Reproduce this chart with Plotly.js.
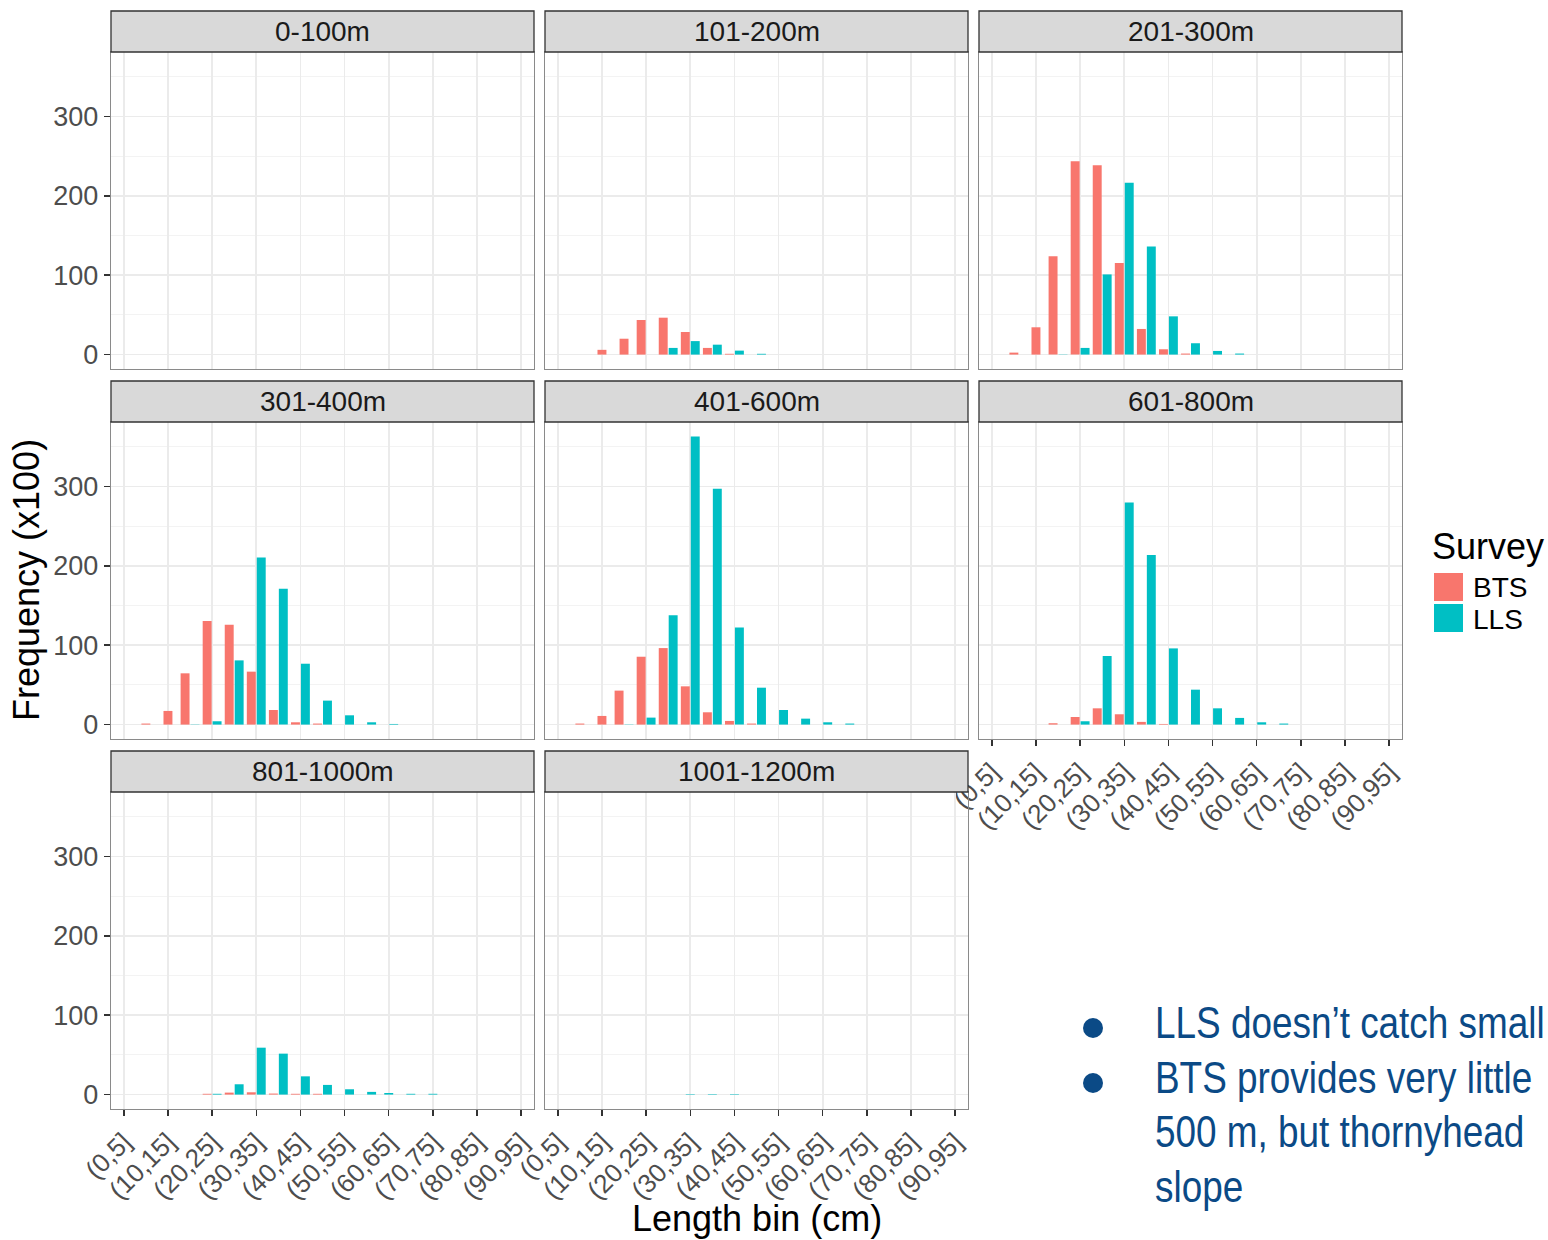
<!DOCTYPE html>
<html>
<head>
<meta charset="utf-8">
<script src="https://cdn.plot.ly/plotly-3.0.1.min.js"></script>
<style>
html,body{margin:0;padding:0;background:#fff;overflow:hidden}
#wrap{position:relative;width:1548px;height:1240px}
#notes{position:absolute;left:0;top:0;width:1548px;height:1240px;pointer-events:none}
.note-line{position:absolute;left:1155px;white-space:nowrap;
  font-family:"Liberation Sans",Arial,Helvetica,sans-serif;font-size:45px;line-height:54.5px;
  color:#0B4A86;transform:scaleX(0.82);transform-origin:0 0}
.note-dot{position:absolute;left:1083px;width:20px;height:20px;border-radius:50%;background:#0B4A86}
</style>
</head>
<body>
<div id="wrap">
  <div id="chart" style="width:1548px;height:1240px"></div>
  <div id="notes"></div>
</div>
<script>
// Length bins (cm) on the shared x axis, and the bins that carry a label
const lengthBins = ["(0,5]","(5,10]","(10,15]","(15,20]","(20,25]","(25,30]","(30,35]","(35,40]","(40,45]","(45,50]","(50,55]","(55,60]","(60,65]","(65,70]","(70,75]","(75,80]","(80,85]","(85,90]","(90,95]"];
const tickBins = ["(0,5]","(10,15]","(20,25]","(30,35]","(40,45]","(50,55]","(60,65]","(70,75]","(80,85]","(90,95]"];
const depthStrata = ["0-100m","101-200m","201-300m","301-400m","401-600m","601-800m","801-1000m","1001-1200m"];
const surveys = ["BTS","LLS"];
const yBreaks = [0,100,200,300];
const yMinorBreaks = [50,150,250,350];

// Frequency (x100) per length bin; null = no record for that survey in that bin
const bts_0_100     = [null,null,null,null,null,null,null,null,null,null,null,null,null,null,null,null,null,null,null];
const lls_0_100     = [null,null,null,null,null,null,null,null,null,null,null,null,null,null,null,null,null,null,null];
const bts_101_200   = [null,null,6,20,43.6,46.5,28.5,8.4,1,0,null,null,null,null,null,null,null,null,null];
const lls_101_200   = [null,null,null,null,0,8.4,17,12.5,5,1,null,null,null,null,null,null,null,null,null];
const bts_201_300   = [null,2.5,34.4,124,243.6,238.6,115.3,32.3,6.7,1.3,0,0,null,null,null,null,null,null,null];
const lls_201_300   = [null,null,null,0.3,8.4,101,216.4,136.3,48.2,14.3,4.6,1.3,null,null,null,null,null,null,null];
const bts_301_400   = [null,1.3,17.2,64.6,130.4,125.8,66.7,18.4,2.9,1.3,0,0,0,null,null,null,null,null,null];
const lls_301_400   = [null,null,null,0.3,4.2,80.9,210.5,171,76.7,30.2,11.7,2.9,0.8,null,null,null,null,null,null];
const bts_401_600   = [null,1.3,10.9,42.8,85.5,96.4,48.2,15.5,4.6,1.3,0,0,0,0,null,null,null,null,null];
const lls_401_600   = [null,null,null,0.3,8.8,137.9,363.1,297.3,122.4,46.5,18.4,7.5,2.9,1.3,null,null,null,null,null];
const bts_601_800   = [null,null,null,1.7,9.6,20.5,13,3.4,0.8,0,0,0,0,0,null,null,null,null,null];
const lls_601_800   = [null,null,null,0,4.2,86.4,279.7,213.8,96,44,20.5,8.4,2.9,1.3,null,null,null,null,null];
const bts_801_1000  = [null,null,null,null,1,2.5,2.9,1.3,1,1,0,0,null,null,null,null,null,null,null];
const lls_801_1000  = [null,null,null,null,1,13,59.1,51.6,23,12.2,6.7,3.4,2,1,1,null,null,null,null];
const bts_1001_1200 = [null,null,null,null,null,null,null,null,null,null,null,null,null,null,null,null,null,null,null];
const lls_1001_1200 = [null,null,null,null,null,null,0.6,0.6,0.6,null,null,null,null,null,null,null,null,null,null];

const btsByStratum = [bts_0_100,bts_101_200,bts_201_300,bts_301_400,bts_401_600,bts_601_800,bts_801_1000,bts_1001_1200];
const llsByStratum = [lls_0_100,lls_101_200,lls_201_300,lls_301_400,lls_401_600,lls_601_800,lls_801_1000,lls_1001_1200];

const surveyColors = {BTS:"#F8766D", LLS:"#00BFC4"};
const noteLines = ["LLS doesn\u2019t catch small", "BTS provides very little", "500 m, but thornyhead", "slope"];
const noteBulleted = [true, true, false, false];

// ---- geometry of the facet grid (pixels) ----
const W = 1548, H = 1240;
const colPx = [[111,534],[545,968],[979,1402]];
const rowPx = [[52,369],[422,739],[792,1109]];
const stripH = 41;
const FONT = "Liberation Sans, Arial, Helvetica, sans-serif";
const STRIP = 28, YTICK = 27, XTICK = 26, TITLE = 36;
const px = v => v / W;
const py = v => 1 - v / H;

// shared y scale with 5% expansion either side
const allVals = btsByStratum.concat(llsByStratum).flat().filter(v => v !== null);
const yMax = Math.max(...allVals);
const yRange = [-0.05 * yMax, 1.05 * yMax];

// dodge: paired bars sit side by side, a lone bar is centred on its bin
const BAR_W = 0.405;
function offsets(own, other, left) {
  return own.map((v, i) => {
    if (v === null) return null;
    if (other[i] === null) return -BAR_W / 2;
    return left ? -0.0225 - BAR_W : 0.0225;
  });
}

const xLabelPanels = new Set([5, 6, 7]);
const traces = [];
const layout = {
  width: W, height: H,
  margin: {l:0, r:0, t:0, b:0},
  paper_bgcolor: "#ffffff",
  plot_bgcolor: "#ffffff",
  showlegend: false,
  barmode: "overlay",
  font: {family: FONT, color: "#1A1A1A"},
  shapes: [],
  annotations: []
};

depthStrata.forEach((name, i) => {
  const r = Math.floor(i / 3), c = i % 3;
  const k = i === 0 ? "" : String(i + 1);
  const xa = "x" + k, ya = "y" + k;
  const bts = btsByStratum[i], lls = llsByStratum[i];

  traces.push({
    type: "bar", name: surveys[0], x: lengthBins, y: bts,
    offset: offsets(bts, lls, true), width: BAR_W,
    marker: {color: surveyColors.BTS, line: {width: 0}},
    xaxis: xa, yaxis: ya
  });
  traces.push({
    type: "bar", name: surveys[1], x: lengthBins, y: lls,
    offset: offsets(lls, bts, false), width: BAR_W,
    marker: {color: surveyColors.LLS, line: {width: 0}},
    xaxis: xa, yaxis: ya
  });

  const showX = xLabelPanels.has(i);
  const showY = c === 0;
  layout["xaxis" + k] = {
    domain: [px(colPx[c][0]), px(colPx[c][1])],
    anchor: ya,
    type: "category",
    categoryorder: "array", categoryarray: lengthBins,
    range: [-0.58, lengthBins.length - 1 + 0.58],
    tickmode: "array", tickvals: tickBins, ticktext: tickBins,
    showticklabels: showX,
    ticks: showX ? "outside" : "", ticklen: 6, tickwidth: 1.5, tickcolor: "#333333",
    tickangle: -45,
    tickfont: {family: FONT, size: XTICK, color: "#4D4D4D"},
    showgrid: true, gridcolor: "#EBEBEB", gridwidth: 1.8,
    zeroline: false,
    showline: true, mirror: true, linecolor: "#8A8A8A", linewidth: 1.2,
    fixedrange: true
  };
  layout["yaxis" + k] = {
    domain: [py(rowPx[r][1]), py(rowPx[r][0])],
    anchor: xa,
    range: yRange,
    tickmode: "array", tickvals: yBreaks, ticktext: yBreaks.map(String),
    showticklabels: showY,
    ticks: showY ? "outside" : "", ticklen: 6, tickwidth: 1.5, tickcolor: "#333333",
    tickfont: {family: FONT, size: YTICK, color: "#4D4D4D"},
    showgrid: true, gridcolor: "#EBEBEB", gridwidth: 1.8,
    minor: {tickmode: "array", tickvals: yMinorBreaks, showgrid: true,
            gridcolor: "#F3F3F3", gridwidth: 1, ticks: ""},
    zeroline: false,
    showline: true, mirror: true, linecolor: "#8A8A8A", linewidth: 1.2,
    fixedrange: true
  };

  // facet strip
  layout.shapes.push({
    type: "rect", xref: "paper", yref: "paper",
    x0: px(colPx[c][0]), x1: px(colPx[c][1]),
    y0: py(rowPx[r][0]), y1: py(rowPx[r][0] - stripH),
    fillcolor: "#D9D9D9", line: {color: "#333333", width: 1.3}, layer: "above"
  });
  layout.annotations.push({
    xref: "paper", yref: "paper",
    x: px((colPx[c][0] + colPx[c][1]) / 2), y: py(rowPx[r][0] - stripH / 2),
    xanchor: "center", yanchor: "middle", showarrow: false,
    text: name, font: {family: FONT, size: STRIP, color: "#1A1A1A"}
  });
});

// axis titles
layout.annotations.push({
  xref: "paper", yref: "paper", x: px(26), y: py(580),
  xanchor: "center", yanchor: "middle", showarrow: false, textangle: -90,
  text: "Frequency (x100)", font: {family: FONT, size: TITLE, color: "#000000"}
});
layout.annotations.push({
  xref: "paper", yref: "paper", x: px(757), y: 0,
  xanchor: "center", yanchor: "bottom", showarrow: false, borderpad: 0,
  text: "Length bin (cm)", font: {family: FONT, size: TITLE, color: "#000000"}
});

// legend
layout.annotations.push({
  xref: "paper", yref: "paper", x: px(1430), y: py(546),
  xanchor: "left", yanchor: "middle", showarrow: false,
  text: "Survey", font: {family: FONT, size: TITLE, color: "#000000"}
});
surveys.forEach((s, j) => {
  const top = 573 + j * 31;
  layout.shapes.push({
    type: "rect", xref: "paper", yref: "paper",
    x0: px(1434), x1: px(1463), y0: py(top), y1: py(top + 28),
    fillcolor: surveyColors[s], line: {width: 0}
  });
  layout.annotations.push({
    xref: "paper", yref: "paper", x: px(1471), y: py(top + 15),
    xanchor: "left", yanchor: "middle", showarrow: false,
    text: s, font: {family: FONT, size: STRIP, color: "#000000"}
  });
});

Plotly.newPlot("chart", traces, layout, {staticPlot: true, displayModeBar: false});

// bullet notes beside the grid
const notes = document.getElementById("notes");
noteLines.forEach((t, j) => {
  const top = 996 + j * 54.5;
  if (noteBulleted[j]) {
    const dot = document.createElement("div");
    dot.className = "note-dot";
    dot.style.top = (top + 22) + "px";
    notes.appendChild(dot);
  }
  const line = document.createElement("div");
  line.className = "note-line";
  line.style.top = top + "px";
  line.textContent = t;
  notes.appendChild(line);
});
</script>
</body>
</html>
